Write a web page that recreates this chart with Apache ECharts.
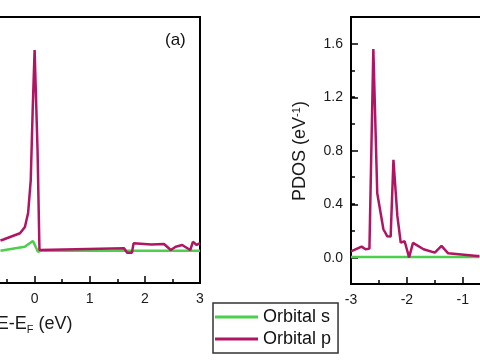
<!DOCTYPE html>
<html><head><meta charset="utf-8">
<script src="https://cdn.jsdelivr.net/npm/echarts@6/dist/echarts.min.js"></script>
<style>
html,body{margin:0;padding:0;background:#fff;overflow:hidden;width:480px;height:360px;position:relative}
#c{position:absolute;left:-140px;top:0;width:833px;height:360px}
</style>
</head><body><div id="c"></div>
<script>
// ---- data ----
const seriesNames = ['Orbital s', 'Orbital p'];

// panel (a): energy E-EF (eV) and PDOS
const leftPEnergy = [-0.62, -0.565, -0.265, -0.176, -0.118, -0.07, -0.035, 0, 0.053, 0.088, 0.124, 1.623, 1.676, 1.765, 1.795, 2.118, 2.347, 2.47, 2.559, 2.677, 2.823, 2.871, 2.94, 3.0];
const leftPValue  = [0.12, 0.127, 0.174, 0.221, 0.326, 0.574, 1.10, 1.552, 0.80, 0.048, 0.061, 0.061, 0.028, 0.028, 0.098, 0.089, 0.093, 0.048, 0.073, 0.086, 0.048, 0.11, 0.086, 0.10];
const leftSEnergy = [-0.62, -0.18, -0.03, 0.06, 0.12, 3.0];
const leftSValue  = [0.043, 0.073, 0.116, 0.035, 0.043, 0.043];

// right panel
const rightPEnergy = [-3.0, -2.81, -2.74, -2.67, -2.60, -2.53, -2.42, -2.35, -2.29, -2.24, -2.17, -2.11, -2.04, -1.96, -1.89, -1.70, -1.50, -1.38, -1.26, -0.74, -0.70];
const rightPValue  = [0.045, 0.08, 0.06, 0.065, 1.56, 0.48, 0.21, 0.157, 0.155, 0.73, 0.31, 0.11, 0.12, 0.0, 0.108, 0.06, 0.035, 0.085, 0.03, 0.01, 0.01];
const rightSEnergy = [-3.0, -0.70];
const rightSValue  = [0.003, 0.003];

// axis ticks
const xTickValues = [-3, -2, -1, 0, 1, 2, 3];
const yTickValues = [0.0, 0.4, 0.8, 1.2, 1.6];

const zip = (a, b) => a.map((v, i) => [v, b[i]]);
const FONT = "'Liberation Sans', Arial, sans-serif";
const GREEN = '#4ccf4c', MAG = '#b01563';
const SHIFT = 140; // canvas starts 140px left of the window

const chart = echarts.init(document.getElementById('c'), null, {renderer: 'canvas'});

function xAxisCfg(grid, withName) {
  const c = {
    type: 'value', gridIndex: grid,
    min: xTickValues[0], max: xTickValues[xTickValues.length - 1], interval: 1,
    axisLine: {show: true, onZero: false, lineStyle: {color: '#000', width: 2}},
    axisTick: {show: true, inside: true, length: 7, lineStyle: {color: '#000', width: 1.5}},
    minorTick: {show: true, splitNumber: 2, length: 4, lineStyle: {color: '#000', width: 1.5}},
    axisLabel: {fontSize: 14, color: '#1a1a1a', margin: 9, fontFamily: FONT},
    splitLine: {show: false}
  };
  if (withName) {
    c.name = '{n|E-E}{sub|F}{n| (eV)}';
    c.nameLocation = 'middle';
    c.nameGap = 31;
    c.nameTextStyle = {
      fontFamily: FONT, color: '#1a1a1a',
      rich: {
        n: {fontSize: 18, fontFamily: FONT, color: '#1a1a1a'},
        sub: {fontSize: 11, fontFamily: FONT, color: '#1a1a1a', padding: [10, 0, 0, 0]}
      }
    };
  }
  return c;
}

const option = {
  animation: false,
  backgroundColor: '#fff',
  grid: [
    {left: 0, width: 340, top: 17, bottom: 77, show: true, borderColor: '#000', borderWidth: 2, backgroundColor: 'transparent'},
    {left: 351 + SHIFT, width: 342, top: 17, bottom: 76, show: true, borderColor: '#000', borderWidth: 2, backgroundColor: 'transparent'},
    {left: 351 + SHIFT, width: 342, top: 44, bottom: 102}
  ],
  xAxis: [
    xAxisCfg(0, true),
    xAxisCfg(1, false),
    {type: 'value', gridIndex: 2, min: -3, max: 3, show: false}
  ],
  yAxis: [
    {type: 'value', gridIndex: 0, min: -0.2, max: 1.8, interval: 0.2,
     axisLine: {show: true, onZero: false, lineStyle: {color: '#000', width: 2}},
     axisTick: {show: true, inside: true, length: 4}, axisLabel: {show: false}, splitLine: {show: false}},
    {type: 'value', gridIndex: 1, min: -0.2, max: 1.8, interval: 0.2,
     axisLine: {show: true, onZero: false, lineStyle: {color: '#000', width: 2}},
     axisTick: {show: true, inside: true, length: 4, lineStyle: {color: '#000', width: 1.5}},
     axisLabel: {show: false}, splitLine: {show: false}},
    {type: 'value', gridIndex: 2, min: yTickValues[0], max: yTickValues[yTickValues.length - 1], interval: 0.4,
     axisLine: {show: false, onZero: false},
     axisTick: {show: true, inside: true, length: 7, lineStyle: {color: '#000', width: 1.5}},
     axisLabel: {show: true, fontSize: 14, color: '#1a1a1a', margin: 8, fontFamily: FONT,
                 formatter: v => v.toFixed(1)},
     splitLine: {show: false},
     name: '{n|PDOS (eV}{sup|-1}{n|)}',
     nameLocation: 'middle', nameGap: 41, nameRotate: 90,
     nameTextStyle: {
       fontFamily: FONT, color: '#1a1a1a',
       rich: {
         n: {fontSize: 18, fontFamily: FONT, color: '#1a1a1a'},
         sup: {fontSize: 11, fontFamily: FONT, color: '#1a1a1a', padding: [0, 0, 8, 0]}
       }
     }}
  ],
  legend: {
    left: 213 + SHIFT, top: 303, orient: 'vertical',
    data: seriesNames,
    icon: 'rect', itemWidth: 43, itemHeight: 3, itemGap: 2,
    padding: [4, 7, 4, 2],
    borderColor: '#333', borderWidth: 1.5,
    textStyle: {fontSize: 18, fontFamily: FONT, color: '#111', lineHeight: 20}
  },
  graphic: [
    {type: 'text', left: 165 + SHIFT, top: 32, style: {text: '(a)', fontSize: 17, fontFamily: FONT, fill: '#111'}}
  ],
  series: [
    {name: seriesNames[0], type: 'line', xAxisIndex: 0, yAxisIndex: 0, data: zip(leftSEnergy, leftSValue),
     showSymbol: false, lineStyle: {color: GREEN, width: 2.5}, itemStyle: {color: GREEN}},
    {name: seriesNames[1], type: 'line', xAxisIndex: 0, yAxisIndex: 0, data: zip(leftPEnergy, leftPValue),
     showSymbol: false, lineStyle: {color: MAG, width: 2.5}, itemStyle: {color: MAG}},
    {name: seriesNames[0], type: 'line', xAxisIndex: 1, yAxisIndex: 1, data: zip(rightSEnergy, rightSValue),
     showSymbol: false, lineStyle: {color: GREEN, width: 2.5}, itemStyle: {color: GREEN}},
    {name: seriesNames[1], type: 'line', xAxisIndex: 1, yAxisIndex: 1, data: zip(rightPEnergy, rightPValue),
     showSymbol: false, lineStyle: {color: MAG, width: 2.5}, itemStyle: {color: MAG}}
  ]
};
chart.setOption(option);
</script>
</body></html>
